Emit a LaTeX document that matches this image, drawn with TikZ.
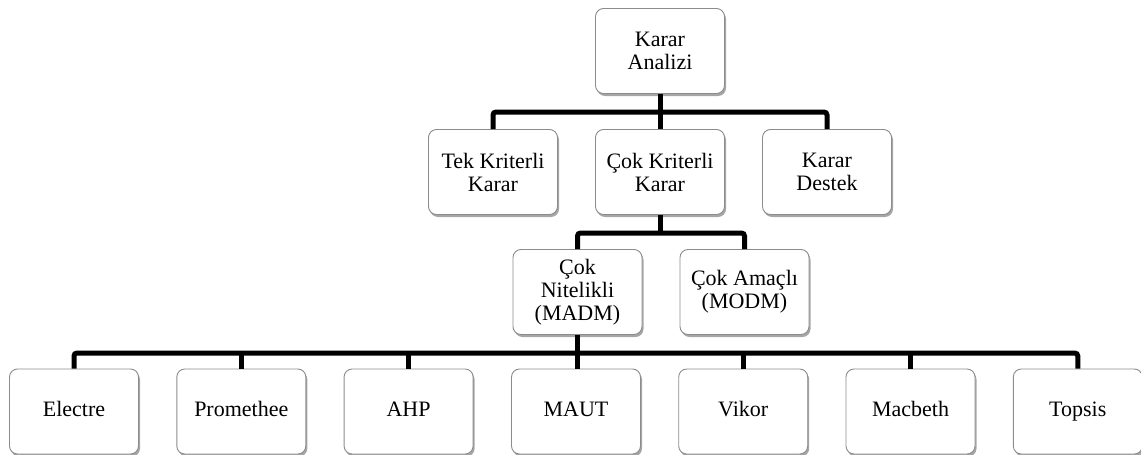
\documentclass[tikz,border=0pt]{standalone}
\usepackage{fontspec}
\setmainfont{Liberation Serif}
\usetikzlibrary{shadows}
\begin{document}
\begin{tikzpicture}[x=1pt,y=-1pt,
  box/.style={draw=black!45, line width=0.9pt, fill=white, rounded corners=8pt,
    minimum width=129pt, minimum height=85pt, align=center, inner sep=0pt,
    font=\fontsize{22}{23}\selectfont,
    drop shadow={shadow xshift=1.5pt, shadow yshift=-2.5pt, opacity=0.35, fill=black}},
  method/.style={box, text height=15pt, text depth=5pt},
  conn/.style={line width=5pt, rounded corners=3pt}]
\useasboundingbox (0,0) rectangle (1141,455);

% root
\node[box] (root) at (660,51) {Karar\\Analizi};

% second level
\node[box] (tek)   at (493,172) {Tek Kriterli\\Karar};
\node[box] (cok)   at (660,172) {Çok Kriterli\\Karar};
\node[box] (destek) at (827,172) {Karar\\Destek};

% third level
\node[box] (madm) at (577.5,292) {Çok\\Nitelikli\\(MADM)};
\node[box] (modm) at (744.5,292) {Çok Amaçlı\\(MODM)};

% methods
\node[method] (m1) at (74,411.5)    {Electre};
\node[method] (m2) at (241.3,411.5) {Promethee};
\node[method] (m3) at (408.6,411.5) {AHP};
\node[method] (m4) at (576,411.5)   {MAUT};
\node[method] (m5) at (743.2,411.5) {Vikor};
\node[method] (m6) at (910.5,411.5) {Macbeth};
\node[method] (m7) at (1077.8,411.5) {Topsis};

% bus lines
\coordinate (bus1) at (660,112);
\coordinate (bus2) at (660,233);
\coordinate (bus3) at (576,353);

\draw[conn] (tek.north) |- (bus1) -| (destek.north);
\draw[conn] (root.south) -- (cok.north);

\draw[conn] (madm.north) |- (bus2) -| (modm.north);
\draw[conn] (cok.south) -- (bus2);

\draw[conn] (m1.north) |- (bus3) -| (m7.north);
\draw[conn] (madm.south) -- (madm.south |- m4.north);
\foreach \m in {m2,m3,m5,m6}
  \draw[conn] (\m.north) -- (\m.north |- bus3);
\end{tikzpicture}
\end{document}
